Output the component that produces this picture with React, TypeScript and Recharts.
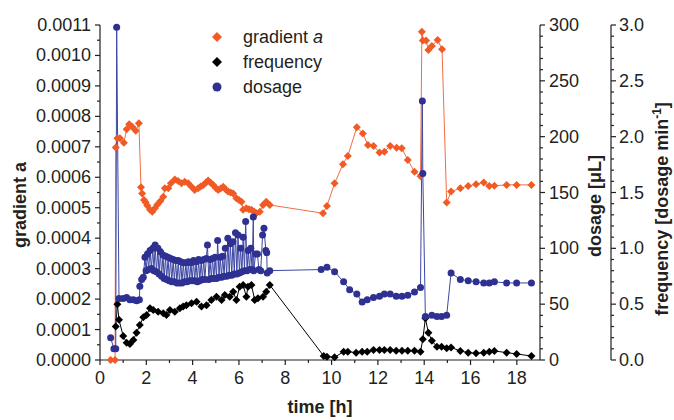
import React from "react";
import { LineChart, Line, XAxis, YAxis } from "recharts";

// gradient a (left axis)
const gradTime = [
  0.46, 0.65, 0.68, 0.75, 0.86, 1.03, 1.15, 1.26, 1.39, 1.54, 1.68, 1.77, 1.82, 1.9, 1.97, 2.04, 2.16, 2.26,
  2.37, 2.48, 2.61, 2.73, 2.8, 2.95, 3.06, 3.23, 3.37, 3.52, 3.66, 3.81, 3.95, 4.09, 4.24, 4.35, 4.46, 4.57,
  4.67, 4.78, 4.89, 5.0, 5.1, 5.21, 5.32, 5.43, 5.53, 5.64, 5.75, 5.89, 6.0, 6.11, 6.18, 6.32, 6.43, 6.54,
  6.65, 6.75, 6.9, 7.04, 7.18, 7.33, 9.63, 9.8, 10.13, 10.49, 10.7, 11.09, 11.35, 11.57, 11.81, 12.07, 12.28,
  12.53, 12.81, 13.03, 13.29, 13.58, 13.84, 13.9, 13.94, 14.08, 14.18, 14.33, 14.58, 14.77, 14.97, 15.16,
  15.56, 15.9, 16.24, 16.57, 16.81, 17.03, 17.56, 17.99, 18.63,
];
const gradValue = [
  0, 0, 0.000698, 0.000728, 0.000728, 0.000713, 0.000758, 0.000774, 0.000766, 0.000753, 0.000777, 0.000567,
  0.000547, 0.000525, 0.000518, 0.000507, 0.000493, 0.000487, 0.000498, 0.000511, 0.000522, 0.000536,
  0.000564, 0.000564, 0.00058, 0.000593, 0.000588, 0.00058, 0.000585, 0.00058, 0.000569, 0.000558, 0.000564,
  0.00057, 0.000575, 0.000582, 0.000589, 0.000582, 0.000575, 0.000565, 0.000558, 0.000563, 0.000569, 0.00056,
  0.000553, 0.00055, 0.000547, 0.000531, 0.000525, 0.00052, 0.000493, 0.000498, 0.000495, 0.000493, 0.000488,
  0.000482, 0.000487, 0.000509, 0.00052, 0.000509, 0.000482, 0.000506, 0.00058, 0.000643, 0.00067, 0.000764,
  0.000744, 0.000706, 0.000703, 0.000681, 0.000684, 0.000703, 0.000697, 0.000695, 0.000657, 0.000618,
  0.000603, 0.001078, 0.001049, 0.001049, 0.001018, 0.001031, 0.001051, 0.00102, 0.000517, 0.000553,
  0.000564, 0.000571, 0.000577, 0.000583, 0.000571, 0.000572, 0.000575, 0.000575, 0.000575,
];

// frequency [dosage min^-1] (outer right axis)
const freqTime = [
  0.68, 0.75, 0.82, 1.0, 1.15, 1.29, 1.44, 1.58, 1.72, 1.87, 2.01, 2.16, 2.3, 2.51, 2.73, 2.87, 3.02, 3.23,
  3.45, 3.59, 3.73, 3.95, 4.17, 4.38, 4.6, 4.81, 5.03, 5.25, 5.39, 5.6, 5.75, 5.89, 6.03, 6.18, 6.32, 6.39,
  6.54, 6.68, 6.82, 7.04, 7.18, 7.33, 9.66, 9.8, 10.13, 10.52, 10.7, 11.06, 11.32, 11.54, 11.81, 12.07,
  12.28, 12.53, 12.79, 13.04, 13.29, 13.58, 13.84, 13.94, 14.05, 14.18, 14.33, 14.55, 14.75, 14.97, 15.16,
  15.56, 15.9, 16.24, 16.57, 16.81, 17.03, 17.56, 17.99, 18.63,
];
const freqValue = [
  0.3, 0.5, 0.36, 0.215, 0.155, 0.143, 0.179, 0.245, 0.313, 0.382, 0.403, 0.463, 0.448, 0.433, 0.418, 0.403,
  0.448, 0.433, 0.463, 0.478, 0.49, 0.508, 0.522, 0.478, 0.49, 0.537, 0.567, 0.537, 0.582, 0.567, 0.612,
  0.537, 0.657, 0.672, 0.567, 0.657, 0.672, 0.537, 0.552, 0.567, 0.612, 0.672, 0.036, 0.03, 0.024, 0.075,
  0.075, 0.066, 0.075, 0.075, 0.09, 0.09, 0.09, 0.09, 0.083, 0.083, 0.083, 0.083, 0.075, 0.185, 0.373, 0.245,
  0.173, 0.119, 0.119, 0.105, 0.113, 0.081, 0.066, 0.06, 0.066, 0.075, 0.081, 0.066, 0.054, 0.036,
];

// dosage [uL] (inner right axis)
const doseTime = [
  0.46, 0.6, 0.68, 0.72, 0.82, 1.0, 1.15, 1.29, 1.44, 1.58, 1.7, 1.72, 1.8, 1.87, 1.94, 1.99, 2.05, 2.1,
  2.16, 2.22, 2.28, 2.33, 2.38, 2.44, 2.5, 2.55, 2.61, 2.66, 2.72, 2.77, 2.83, 2.88, 2.94, 2.99, 3.05, 3.1,
  3.16, 3.21, 3.27, 3.32, 3.38, 3.43, 3.49, 3.54, 3.6, 3.65, 3.71, 3.76, 3.82, 3.87, 3.93, 3.98, 4.04, 4.09,
  4.15, 4.2, 4.26, 4.31, 4.37, 4.42, 4.48, 4.53, 4.59, 4.64, 4.7, 4.75, 4.81, 4.86, 4.92, 4.97, 5.03, 5.08,
  5.14, 5.19, 5.25, 5.3, 5.36, 5.41, 5.47, 5.52, 5.58, 5.63, 5.69, 5.74, 5.8, 5.85, 5.91, 5.96, 6.02, 6.07,
  6.13, 6.18, 6.24, 6.29, 6.35, 6.4, 6.46, 6.51, 6.57, 6.62, 6.64, 6.72, 6.8, 6.86, 6.94, 7.02, 7.08, 7.16,
  7.2, 7.22, 7.33, 9.55, 9.8, 10.13, 10.52, 10.78, 11.09, 11.32, 11.54, 11.81, 12.07, 12.28, 12.53, 12.79,
  13.04, 13.29, 13.58, 13.84, 13.92, 13.94, 14.05, 14.33, 14.55, 14.75, 14.97, 15.16, 15.56, 15.9, 16.24,
  16.57, 16.81, 17.03, 17.56, 17.99, 18.63,
];
const doseValue = [
  20, 10, 10, 298, 55, 55, 56, 54, 54, 53, 54, 66, 72, 74, 92, 80, 95, 81, 98, 82, 100, 80, 103, 79, 100,
  77, 97, 75, 94, 73, 93, 72, 92, 71, 91, 70, 90, 70, 89, 69, 89, 69, 88, 69, 87, 70, 87, 70, 88, 71, 87, 71,
  89, 71, 88, 70, 90, 71, 89, 72, 90, 72, 91, 103, 72, 90, 73, 91, 73, 92, 73, 107, 74, 92, 74, 93, 75, 100,
  75, 109, 76, 104, 76, 106, 77, 114, 77, 112, 78, 100, 79, 110, 80, 124, 80, 98, 81, 100, 81, 128, 80, 95,
  95, 81, 80, 112, 118, 98, 96, 78, 80, 81, 83, 79, 70, 63, 59, 52, 54, 56, 57, 59, 59, 57, 57, 58, 61, 65,
  232, 167, 39, 40, 39, 39, 40, 78, 72, 71, 70, 69, 69, 70, 69, 69, 69,
];

const xTicks = [0, 1, 2, 3, 4, 5, 6, 7, 8, 9, 10, 11, 12, 13, 14, 15, 16, 17, 18];
const gradTicks = [
  0, 0.00005, 0.0001, 0.00015, 0.0002, 0.00025, 0.0003, 0.00035, 0.0004, 0.00045, 0.0005, 0.00055, 0.0006,
  0.00065, 0.0007, 0.00075, 0.0008, 0.00085, 0.0009, 0.00095, 0.001, 0.00105, 0.0011,
];
const doseTicks = [
  0, 10, 20, 30, 40, 50, 60, 70, 80, 90, 100, 110, 120, 130, 140, 150, 160, 170, 180, 190, 200, 210, 220,
  230, 240, 250, 260, 270, 280, 290, 300,
];
const freqTicks = [
  0, 0.1, 0.2, 0.3, 0.4, 0.5, 0.6, 0.7, 0.8, 0.9, 1.0, 1.1, 1.2, 1.3, 1.4, 1.5, 1.6, 1.7, 1.8, 1.9, 2.0, 2.1,
  2.2, 2.3, 2.4, 2.5, 2.6, 2.7, 2.8, 2.9, 3.0,
];

const gradData = gradTime.map((t, i) => ({ t, v: gradValue[i] }));
const freqData = freqTime.map((t, i) => ({ t, v: freqValue[i] }));
const doseData = doseTime.map((t, i) => ({ t, v: doseValue[i] }));

const FONT = "'Liberation Sans', Arial, sans-serif";
const INK = "#231f20";
const ORANGE = "#f15a24";
const BLUE = "#2e3192";

function diamond(color: string) {
  return (props: any) => {
    const { cx, cy, index } = props;
    const s = 4;
    return (
      <path
        key={index}
        d={`M${cx},${cy - s}L${cx + s},${cy}L${cx},${cy + s}L${cx - s},${cy}Z`}
        fill={color}
      />
    );
  };
}

function circle(props: any) {
  const { cx, cy, index } = props;
  return <circle key={index} cx={cx} cy={cy} r={3.5} fill={BLUE} />;
}

function LeftTick({ x, y, payload }: any) {
  const major = Math.round(payload.value / 0.00005) % 2 === 0;
  return (
    <g>
      <line x1={x - (major ? 5 : 3)} x2={x} y1={y} y2={y} stroke={INK} strokeWidth={1.2} />
      {major && (
        <text x={x - 9} y={y + 6} textAnchor="end" fontSize={18} fill={INK} fontFamily={FONT}>
          {payload.value.toFixed(4)}
        </text>
      )}
    </g>
  );
}

function BottomTick({ x, y, payload }: any) {
  const major = payload.value % 2 === 0;
  return (
    <g>
      <line x1={x} x2={x} y1={y} y2={y + (major ? 5 : 3)} stroke={INK} strokeWidth={1.2} />
      {major && (
        <text x={x} y={y + 24} textAnchor="middle" fontSize={18} fill={INK} fontFamily={FONT}>
          {payload.value}
        </text>
      )}
    </g>
  );
}

function DoseTick({ x, y, payload }: any) {
  const major = payload.value % 50 === 0;
  return (
    <g>
      <line x1={x} x2={x + (major ? 5 : 3)} y1={y} y2={y} stroke={INK} strokeWidth={1.2} />
      {major && (
        <text x={x + 9} y={y + 6} textAnchor="start" fontSize={18} fill={INK} fontFamily={FONT}>
          {payload.value}
        </text>
      )}
    </g>
  );
}

function FreqTick({ x, y, payload }: any) {
  const major = Math.round(payload.value * 10) % 5 === 0;
  return (
    <g>
      <line x1={x} x2={x + (major ? 5 : 3)} y1={y} y2={y} stroke={INK} strokeWidth={1.2} />
      {major && (
        <text x={x + 8} y={y + 6} textAnchor="start" fontSize={18} fill={INK} fontFamily={FONT}>
          {payload.value.toFixed(1)}
        </text>
      )}
    </g>
  );
}

function Titles() {
  const legend = [
    { label: "gradient ", italic: "a", color: ORANGE, shape: "d" },
    { label: "frequency", italic: "", color: "#000", shape: "d" },
    { label: "dosage", italic: "", color: BLUE, shape: "c" },
  ];
  return (
    <g fontFamily={FONT} fill={INK}>
      <text x={320} y={413} textAnchor="middle" fontSize={18} fontWeight="bold">
        time [h]
      </text>
      <text x={26} y={205} textAnchor="middle" fontSize={18} fontWeight="bold" transform="rotate(-90 26 205)">
        gradient a
      </text>
      <text x={601} y={206} textAnchor="middle" fontSize={18} fontWeight="bold" transform="rotate(-90 601 206)">
        dosage [μL]
      </text>
      <text x={668} y={209} textAnchor="middle" fontSize={18} fontWeight="bold" transform="rotate(-90 668 209)">
        frequency [dosage min<tspan dy={-7} fontSize={12}>-1</tspan>
        <tspan dy={7}>]</tspan>
      </text>
      {legend.map((item, i) => {
        const cy = 37 + i * 25;
        return (
          <g key={item.label}>
            {item.shape === "d" ? (
              <path d={`M217,${cy - 5}L222,${cy}L217,${cy + 5}L212,${cy}Z`} fill={item.color} />
            ) : (
              <circle cx={217} cy={cy} r={4.5} fill={item.color} />
            )}
            <text x={243} y={cy + 6} fontSize={18}>
              {item.label}
              {item.italic && <tspan fontStyle="italic">{item.italic}</tspan>}
            </text>
          </g>
        );
      })}
    </g>
  );
}

export default function App() {
  return (
    <div style={{ position: "absolute", left: 0, top: 0, background: "#fff" }}>
      <LineChart width={674} height={420} margin={{ top: 25, right: 0, bottom: 0, left: 0 }}>
        <XAxis
          dataKey="t"
          type="number"
          domain={[0, 19]}
          ticks={xTicks}
          interval={0}
          height={60}
          tickSize={0}
          tickMargin={0}
          tickLine={false}
          axisLine={{ stroke: INK, strokeWidth: 1.2 }}
          tick={BottomTick}
        />
        <YAxis
          yAxisId="g"
          type="number"
          domain={[0, 0.0011]}
          ticks={gradTicks}
          interval={0}
          width={100}
          tickSize={0}
          tickMargin={0}
          tickLine={false}
          axisLine={{ stroke: INK, strokeWidth: 1.2 }}
          tick={LeftTick}
        />
        <YAxis
          yAxisId="d"
          orientation="right"
          type="number"
          domain={[0, 300]}
          ticks={doseTicks}
          interval={0}
          width={71}
          tickSize={0}
          tickMargin={0}
          tickLine={false}
          axisLine={{ stroke: INK, strokeWidth: 1.2 }}
          tick={DoseTick}
        />
        <YAxis
          yAxisId="f"
          orientation="right"
          type="number"
          domain={[0, 3]}
          ticks={freqTicks}
          interval={0}
          width={63}
          tickSize={0}
          tickMargin={0}
          tickLine={false}
          axisLine={{ stroke: INK, strokeWidth: 1.2 }}
          tick={FreqTick}
        />
        <Line
          yAxisId="g"
          data={gradData}
          dataKey="v"
          stroke="#f26d45"
          strokeWidth={1}
          dot={diamond(ORANGE)}
          activeDot={false}
          isAnimationActive={false}
        />
        <Line
          yAxisId="f"
          data={freqData}
          dataKey="v"
          stroke="#000"
          strokeWidth={1}
          dot={diamond("#000")}
          activeDot={false}
          isAnimationActive={false}
        />
        <Line
          yAxisId="d"
          data={doseData}
          dataKey="v"
          stroke="#3d47a3"
          strokeWidth={1}
          dot={circle}
          activeDot={false}
          isAnimationActive={false}
        />
        <Titles />
      </LineChart>
    </div>
  );
}
